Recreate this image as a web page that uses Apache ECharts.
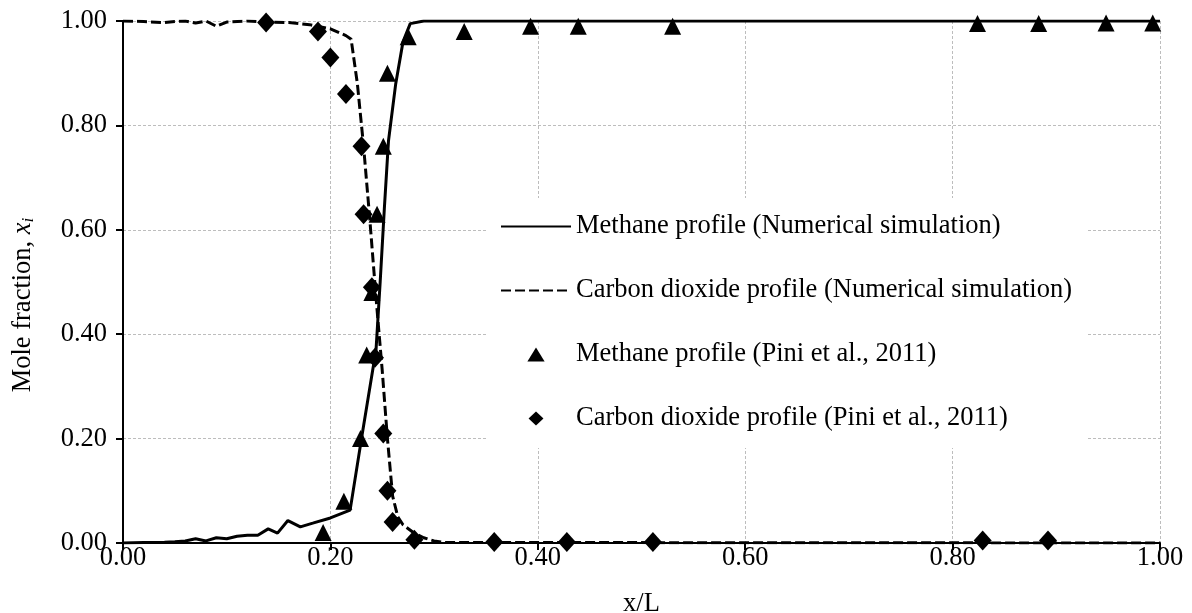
<!DOCTYPE html>
<html>
<head>
<meta charset="utf-8">
<script src="https://cdn.jsdelivr.net/npm/echarts@6/dist/echarts.min.js"></script>
<style>html,body{margin:0;padding:0;background:#fff}#c{width:1192px;height:613px}</style>
</head>
<body>
<div id="c"></div>
<script>
// Numerical simulation profiles (x/L, mole fraction)
const methaneSimX = [0,0.01,0.02,0.03,0.04,0.05,0.06,0.07,0.08,0.09,0.10,0.11,0.12,0.13,0.14,0.149,0.159,0.171,0.183,0.20,0.219,0.23,0.244,0.248,0.252,0.256,0.263,0.27,0.277,0.29,1.0];
const methaneSimY = [0,0.0005,0.001,0.0008,0.0015,0.0025,0.004,0.008,0.004,0.01,0.008,0.013,0.015,0.015,0.027,0.019,0.043,0.031,0.038,0.048,0.063,0.20,0.37,0.50,0.64,0.77,0.88,0.96,0.995,1.0,1.0];
const co2SimX = [0,0.02,0.04,0.05,0.06,0.07,0.08,0.09,0.10,0.12,0.14,0.16,0.18,0.20,0.215,0.22,0.226,0.232,0.238,0.244,0.25,0.255,0.26,0.265,0.27,0.28,0.29,0.30,0.31,1.0];
const co2SimY = [1,0.999,0.997,0.999,1,0.996,1,0.99,0.998,1,0.998,0.997,0.993,0.985,0.972,0.965,0.88,0.76,0.62,0.47,0.33,0.2,0.09,0.05,0.035,0.02,0.01,0.004,0.001,0];
// Experimental data (Pini et al., 2011)
const methaneExpX = [0.193,0.213,0.229,0.235,0.240,0.245,0.251,0.255,0.275,0.329,0.393,0.439,0.530,0.824,0.883,0.948,0.993];
const methaneExpY = [0.02,0.08,0.20,0.36,0.48,0.63,0.76,0.90,0.97,0.98,0.99,0.99,0.99,0.995,0.995,0.996,0.996];
const co2ExpX = [0.138,0.188,0.200,0.215,0.230,0.232,0.240,0.243,0.251,0.255,0.260,0.281,0.358,0.428,0.511,0.829,0.892];
const co2ExpY = [0.997,0.98,0.93,0.86,0.76,0.63,0.49,0.355,0.21,0.10,0.04,0.006,0.002,0.002,0.002,0.005,0.005];
const seriesNames = ['Methane profile (Numerical simulation)','Carbon dioxide profile (Numerical simulation)','Methane profile (Pini et al., 2011)','Carbon dioxide profile (Pini et al., 2011)'];
const xTitle = 'x/L';

const zip = (a, b) => a.map((v, i) => [v, b[i]]);
const FONT = 'Liberation Serif';
const FS = 26.5;

const chart = echarts.init(document.getElementById('c'), null, {renderer: 'canvas'});
const axisCommon = {
  min: 0, max: 1, interval: 0.2,
  axisLine: {show: true, onZero: false, lineStyle: {color: '#000', width: 2}},
  axisTick: {show: true, inside: false, length: 7, lineStyle: {color: '#000', width: 2}},
  splitLine: {show: true, lineStyle: {color: '#bdbdbd', width: 1, type: [3, 2]}},
  axisLabel: {color: '#000', fontFamily: FONT, fontSize: FS, formatter: v => v.toFixed(2)}
};
chart.setOption({
  animation: false,
  backgroundColor: '#fff',
  grid: {left: 123, right: 32, top: 21, bottom: 70, containLabel: false, outerBoundsMode: 'none'},
  xAxis: Object.assign({}, axisCommon, {
    type: 'value',
    name: xTitle, nameLocation: 'middle', nameGap: 48,
    nameTextStyle: {color: '#000', fontFamily: FONT, fontSize: FS},
    axisLabel: Object.assign({}, axisCommon.axisLabel, {margin: 2})
  }),
  yAxis: Object.assign({}, axisCommon, {
    type: 'value',
    name: 'Mole fraction, {it|x}{sub|i}', nameLocation: 'middle', nameGap: 86, nameRotate: 90,
    nameTextStyle: {color: '#000', fontFamily: FONT, fontSize: FS, padding: [0, 46, 0, 0],
      rich: {it: {fontStyle: 'italic', fontFamily: FONT, fontSize: FS, color: '#000'},
             sub: {fontStyle: 'italic', fontFamily: FONT, fontSize: 17, color: '#000', verticalAlign: 'bottom', padding: [10, 0, 0, 0]}}},
    axisLabel: Object.assign({}, axisCommon.axisLabel, {margin: 16})
  }),
  legend: {
    orient: 'vertical', left: 486, top: 198,
    padding: [15, 14, 16, 14],
    backgroundColor: '#fff',
    itemWidth: 70, itemHeight: 14, itemGap: 37,
    symbolKeepAspect: true,
    textStyle: {color: '#000', fontFamily: FONT, fontSize: FS, lineHeight: 24},
    data: [
      {name: seriesNames[0], itemStyle: {opacity: 0}},
      {name: seriesNames[1], itemStyle: {opacity: 0}},
      {name: seriesNames[2], icon: 'path://M8,0L16,13L0,13Z'},
      {name: seriesNames[3], icon: 'path://M8,0L16,7.5L8,15L0,7.5Z'}
    ]
  },
  series: [
    {name: seriesNames[0], type: 'line', data: zip(methaneSimX, methaneSimY), symbol: 'none', showSymbol: false,
     lineStyle: {color: '#000', width: 3}, itemStyle: {color: '#000'}, z: 3},
    {name: seriesNames[1], type: 'line', data: zip(co2SimX, co2SimY), symbol: 'none', showSymbol: false,
     lineStyle: {color: '#000', width: 3, type: [10, 4]}, itemStyle: {color: '#000'}, z: 3},
    {name: seriesNames[2], type: 'scatter', data: zip(methaneExpX, methaneExpY), symbol: 'triangle', symbolSize: [17, 17],
     itemStyle: {color: '#000', opacity: 1}, z: 4},
    {name: seriesNames[3], type: 'scatter', data: zip(co2ExpX, co2ExpY), symbol: 'diamond', symbolSize: [18, 20],
     itemStyle: {color: '#000', opacity: 1}, z: 4}
  ]
});
</script>
</body>
</html>
